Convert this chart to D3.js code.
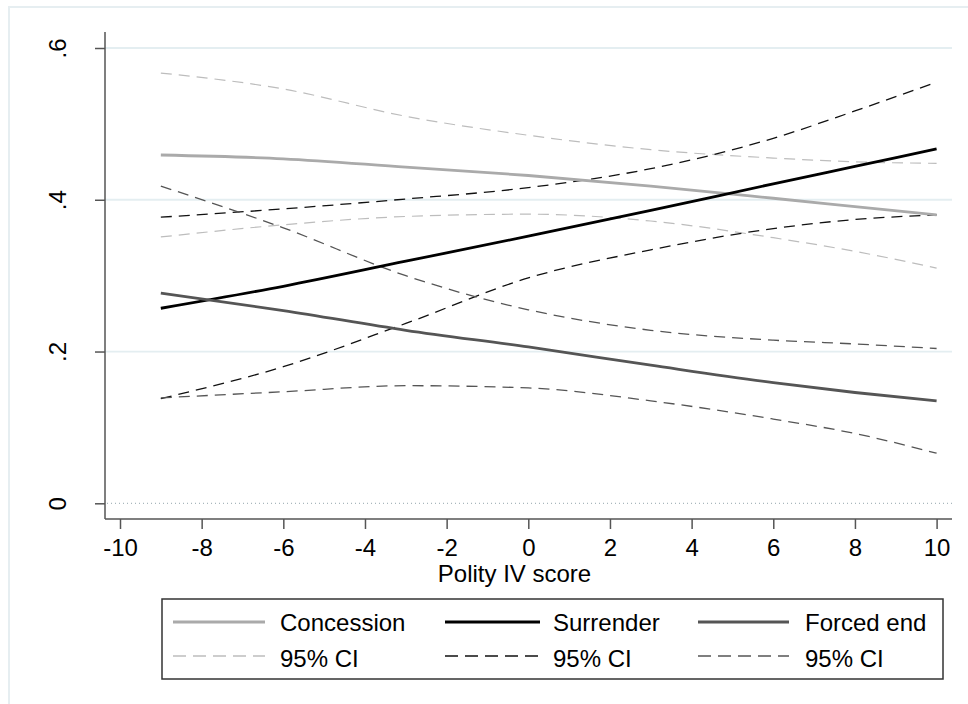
<!DOCTYPE html>
<html>
<head>
<meta charset="utf-8">
<script src="https://cdn.jsdelivr.net/npm/d3@7"></script>
<style>
  html, body { margin: 0; padding: 0; background: #fff; }
  svg { display: block; font-family: "Liberation Sans", Arial, sans-serif; }
</style>
</head>
<body>
<svg id="chart" width="968" height="704"></svg>
<script>
// ---- data ----
const polity = [-9, -6, -3, 0, 3, 6, 8, 10];
const concession    = [0.459, 0.454, 0.443, 0.432, 0.418, 0.402, 0.391, 0.380];
const concessionHi  = [0.567, 0.546, 0.510, 0.485, 0.466, 0.455, 0.450, 0.448];
const concessionLo  = [0.351, 0.367, 0.378, 0.381, 0.372, 0.350, 0.332, 0.310];
const surrender     = [0.257, 0.286, 0.319, 0.352, 0.386, 0.421, 0.444, 0.467];
const surrenderHi   = [0.377, 0.388, 0.401, 0.416, 0.441, 0.481, 0.517, 0.555];
const surrenderLo   = [0.138, 0.180, 0.237, 0.297, 0.334, 0.362, 0.374, 0.380];
const forced        = [0.277, 0.254, 0.228, 0.206, 0.182, 0.159, 0.146, 0.135];
const forcedHi      = [0.418, 0.363, 0.300, 0.255, 0.228, 0.215, 0.210, 0.204];
const forcedLo      = [0.139, 0.147, 0.155, 0.152, 0.135, 0.111, 0.092, 0.066];
const xTicks = [-10, -8, -6, -4, -2, 0, 2, 4, 6, 8, 10];
const yTicks = [0, 0.2, 0.4, 0.6];
const yTickLabels = ["0", ".2", ".4", ".6"];
const xTitle = "Polity IV score";
const legendLabels = ["Concession", "Surrender", "Forced end"];
const ciLabel = "95% CI";

// ---- layout ----
const svg = d3.select("#chart");
const plotL = 105, plotR = 952, plotT = 32, plotB = 519;
const x = d3.scaleLinear().domain([-10, 10]).range([120, 936.6]);
const y = d3.scaleLinear().domain([0, 0.6]).range([503.3, 48]);
const FS = "24px";

// outer frame
svg.append("rect").attr("x", 9).attr("y", 7).attr("width", 980).attr("height", 720)
  .attr("fill", "#fff").attr("stroke", "#e6eef1").attr("stroke-width", 2);

// gridlines
const gridG = svg.append("g");
yTicks.filter(d => d > 0).forEach(t => {
  gridG.append("line").attr("x1", plotL).attr("x2", plotR)
    .attr("y1", y(t)).attr("y2", y(t))
    .attr("stroke", "#e4eef1").attr("stroke-width", 1.8);
});
// zero dotted line
svg.append("line").attr("x1", plotL + 2).attr("x2", plotR)
  .attr("y1", y(0)).attr("y2", y(0))
  .attr("stroke", "#a9b7bd").attr("stroke-width", 1.2)
  .attr("stroke-dasharray", "1,3");

// axes
const yAxis = d3.axisLeft(y).tickValues(yTicks).tickSize(10).tickFormat((d, i) => yTickLabels[i]);
const gy = svg.append("g").attr("transform", `translate(${plotL},0)`).call(yAxis);
gy.select(".domain").remove();
gy.append("line").attr("x1", 0).attr("x2", 0).attr("y1", plotT).attr("y2", plotB)
  .attr("stroke", "#555").attr("stroke-width", 1.5);
gy.selectAll(".tick line").attr("stroke", "#555").attr("stroke-width", 1.5);
gy.selectAll(".tick text")
  .attr("x", null).attr("dy", null)
  .attr("transform", "translate(-39,0) rotate(-90)")
  .attr("text-anchor", "middle")
  .attr("fill", "#000")
  .style("font-size", FS)
  .style("font-family", "'Liberation Sans', Arial, sans-serif");

const xAxis = d3.axisBottom(x).tickValues(xTicks).tickSize(10).tickFormat(d3.format("d"));
const gx = svg.append("g").attr("transform", `translate(0,${plotB})`).call(xAxis);
gx.select(".domain").remove();
gx.append("line").attr("x1", plotL).attr("x2", plotR).attr("y1", 0).attr("y2", 0)
  .attr("stroke", "#555").attr("stroke-width", 1.5);
gx.selectAll(".tick line").attr("stroke", "#555").attr("stroke-width", 1.5);
gx.selectAll(".tick text")
  .attr("y", 37).attr("dy", null)
  .attr("fill", "#000")
  .style("font-size", FS)
  .style("font-family", "'Liberation Sans', Arial, sans-serif");
gx.selectAll(".tick text").text(d => d < 0 ? "-" + Math.abs(d) : String(d));

svg.append("text").attr("x", (plotL + plotR) / 2 - 14).attr("y", 582)
  .attr("text-anchor", "middle").style("font-size", FS).text(xTitle);

// series
const series = [
  { v: concessionHi, color: "#bdbdbd", w: 1.2, dash: "11,7" },
  { v: concessionLo, color: "#bdbdbd", w: 1.2, dash: "11,7" },
  { v: surrenderHi,  color: "#111",    w: 1.3, dash: "11,7" },
  { v: surrenderLo,  color: "#111",    w: 1.3, dash: "11,7" },
  { v: forcedHi,     color: "#555",    w: 1.3, dash: "11,7" },
  { v: forcedLo,     color: "#555",    w: 1.3, dash: "11,7" },
  { v: concession,   color: "#aaaaaa", w: 2.8, dash: null },
  { v: surrender,    color: "#000",    w: 2.8, dash: null },
  { v: forced,       color: "#555",    w: 2.8, dash: null }
];
const line = d3.line().x(d => x(d[0])).y(d => y(d[1])).curve(d3.curveMonotoneX);
series.forEach(s => {
  svg.append("path")
    .datum(polity.map((p, i) => [p, s.v[i]]))
    .attr("d", line)
    .attr("fill", "none")
    .attr("stroke", s.color)
    .attr("stroke-width", s.w)
    .attr("stroke-dasharray", s.dash);
});

// legend
svg.append("rect").attr("x", 162).attr("y", 599).attr("width", 781).attr("height", 80)
  .attr("fill", "#fff").attr("stroke", "#333").attr("stroke-width", 1.5);
const legCols = [
  { lx: 173, lw: 92, tx: 280, solid: "#aaaaaa", ci: "#bdbdbd" },
  { lx: 445, lw: 95, tx: 553, solid: "#000", ci: "#111" },
  { lx: 698, lw: 91, tx: 805, solid: "#555", ci: "#555" }
];
legCols.forEach((c, i) => {
  svg.append("line").attr("x1", c.lx).attr("x2", c.lx + c.lw).attr("y1", 622).attr("y2", 622)
    .attr("stroke", c.solid).attr("stroke-width", 2.8);
  svg.append("text").attr("x", c.tx).attr("y", 631).style("font-size", FS).text(legendLabels[i]);
  svg.append("line").attr("x1", c.lx).attr("x2", c.lx + c.lw).attr("y1", 656).attr("y2", 656)
    .attr("stroke", c.ci).attr("stroke-width", 1.3).attr("stroke-dasharray", "13,7");
  svg.append("text").attr("x", c.tx).attr("y", 667).style("font-size", FS).text(ciLabel);
});
</script>
</body>
</html>
